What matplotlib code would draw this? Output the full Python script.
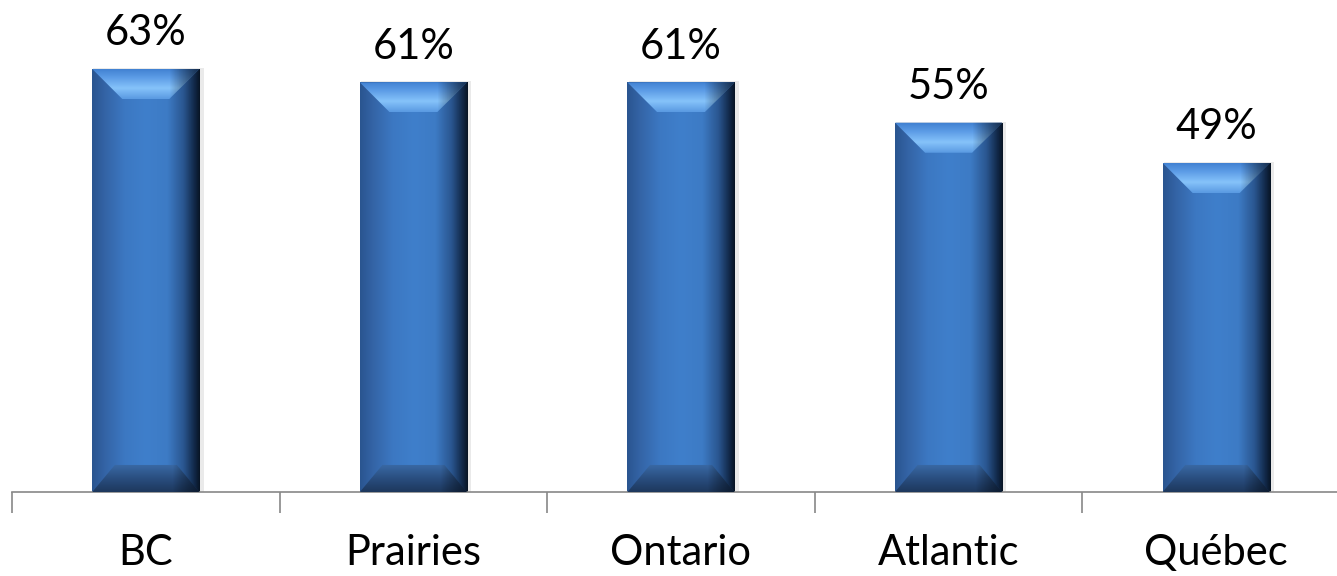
import numpy as np
import matplotlib.pyplot as plt
from matplotlib.colors import LinearSegmentedColormap
from matplotlib.patches import Polygon

regions = ["BC", "Prairies", "Ontario", "Atlantic", "Québec"]
shares = [63, 61, 61, 55, 49]
value_labels = ["63%", "61%", "61%", "55%", "49%"]

plt.rcParams["font.family"] = ["Lato", "DejaVu Sans"]

W, H, DPI = 1337, 576, 100
fig = plt.figure(figsize=(W / DPI, H / DPI), dpi=DPI)
# x axis spans from first tick (x=12px) to past the right edge
ax = fig.add_axes([12 / W, (H - 492) / H, 1338 / W, 470 / H])
ax.set_xlim(-0.5, 4.5)
ax.set_ylim(0, 70)

bar_w = 0.40
bars = ax.bar(range(len(regions)), shares, width=bar_w, color="none", zorder=2)

body_cmap = LinearSegmentedColormap.from_list("body", [
    (0.0, "#2a5590"), (0.12, "#3464a6"), (0.3, "#3c78c2"), (0.5, "#3f7fcb"),
    (0.7, "#3d7bc5"), (0.85, "#2a5690"), (0.95, "#12294a"), (1.0, "#081526")])
top_cmap = LinearSegmentedColormap.from_list("top", [
    (0.0, "#5a9ae2"), (0.35, "#86c3fa"), (0.7, "#5c9ce6"), (1.0, "#3f7fd0")])
bot_cmap = LinearSegmentedColormap.from_list("bot", [
    (0.0, "#1d385d"), (0.5, "#2a4e80"), (1.0, "#3a6aa6")])

bx = 30 / 267.5  # bevel width in data units
by = 30 / 6.71   # bevel height in data units

for p in bars.patches:
    x0, y0 = p.get_x(), p.get_y()
    w, h = p.get_width(), p.get_height()
    x1, y1 = x0 + w, y0 + h

    # soft shadow
    ax.add_patch(plt.Rectangle((x0 + 0.004, y0), w + 0.012, h + 0.15,
                               color="#d6d6d6", alpha=0.5, zorder=1, lw=0))

    # body: horizontal gradient
    img = np.tile(np.linspace(0, 1, 300), (2, 1))
    im = ax.imshow(img, cmap=body_cmap, extent=(x0, x1, y0, y1),
                   aspect="auto", origin="lower", zorder=2)
    im.set_clip_path(p)

    # top bevel
    top_poly = Polygon([(x0, y1), (x1, y1), (x1 - bx, y1 - by), (x0 + bx, y1 - by)],
                       closed=True, fc="none", ec="none")
    ax.add_patch(top_poly)
    tg = np.linspace(0, 1, 60)[:, None] * np.ones((1, 2))
    tim = ax.imshow(tg, cmap=top_cmap, extent=(x0, x1, y1 - by, y1),
                    aspect="auto", origin="lower", zorder=3)
    tim.set_clip_path(top_poly)
    # darken the right end of the top bevel
    rim = ax.imshow(np.tile(np.linspace(0, 1, 200), (2, 1)),
                    cmap=LinearSegmentedColormap.from_list(
                        "r", [(0, (0, 0, 0, 0)), (0.72, (0, 0, 0, 0)),
                              (1.0, (0.02, 0.06, 0.12, 0.75))]),
                    extent=(x0, x1, y1 - by, y1), aspect="auto", origin="lower", zorder=3.5)
    rim.set_clip_path(top_poly)

    # bottom bevel
    bh = by * 0.9
    bot_poly = Polygon([(x0, y0), (x1, y0), (x1 - bx * 0.75, y0 + bh),
                        (x0 + bx * 0.75, y0 + bh)],
                       closed=True, fc="none", ec="none")
    ax.add_patch(bot_poly)
    bg = np.linspace(0, 1, 60)[:, None] * np.ones((1, 2))
    bim = ax.imshow(bg, cmap=bot_cmap, extent=(x0, x1, y0, y0 + bh),
                    aspect="auto", origin="lower", zorder=3)
    bim.set_clip_path(bot_poly)
    rim2 = ax.imshow(np.tile(np.linspace(0, 1, 200), (2, 1)),
                     cmap=LinearSegmentedColormap.from_list(
                         "r2", [(0, (0, 0, 0, 0)), (0.75, (0, 0, 0, 0)),
                                (1.0, (0.02, 0.06, 0.12, 0.7))]),
                     extent=(x0, x1, y0, y0 + bh), aspect="auto", origin="lower", zorder=3.5)
    rim2.set_clip_path(bot_poly)

for i, lab in enumerate(value_labels):
    ax.annotate(lab, (i, shares[i]), xytext=(0, 12), textcoords="offset points",
                ha="center", va="bottom", fontsize=30, color="black")

ax.set_xticks(np.arange(-0.5, 5.0, 1.0))
ax.set_xticklabels([])
ax.tick_params(axis="x", length=15, width=1.2, color="#888888", direction="out")
for i, r in enumerate(regions):
    ax.text(i, -6.3, r, ha="center", va="top", fontsize=30, color="black")

ax.set_yticks([])
for s in ["top", "right", "left"]:
    ax.spines[s].set_visible(False)
ax.spines["bottom"].set_color("#888888")
ax.spines["bottom"].set_linewidth(1.2)

fig.savefig("out.png", dpi=DPI)
